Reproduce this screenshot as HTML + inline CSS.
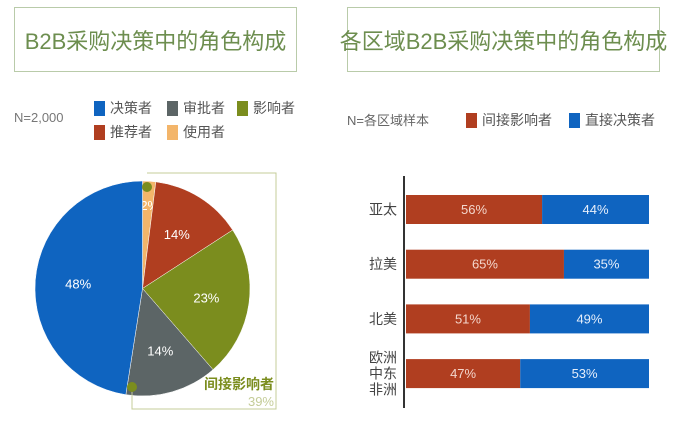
<!DOCTYPE html>
<html><head><meta charset="utf-8"><style>
body{margin:0;width:678px;height:422px;background:#fff;position:relative;overflow:hidden;font-family:"Liberation Sans","Noto Sans CJK SC",sans-serif;}
.abs{position:absolute}
.tbox{position:absolute;border:1.5px solid #b9cba9;color:#6d8e4f;font-size:22px;display:flex;align-items:center;justify-content:center;box-sizing:border-box;white-space:nowrap}
.lg{position:absolute;font-size:14px;color:#555;display:flex;align-items:center;white-space:nowrap}
.sw{width:11px;height:15px;margin-right:5px}
</style></head><body>
<div class="tbox" style="left:14px;top:7px;width:283px;height:65px">B2B采购决策中的角色构成</div>
<div class="tbox" style="left:347px;top:7px;width:313px;height:65px">各区域B2B采购决策中的角色构成</div>
<div class="lg" style="left:14px;top:110px;color:#777;font-size:13px">N=2,000</div>
<div class="lg" style="left:94px;top:98px"><div class="sw" style="background:#0f64c0"></div>决策者</div>
<div class="lg" style="left:167px;top:98px"><div class="sw" style="background:#5c6566"></div>审批者</div>
<div class="lg" style="left:237px;top:98px"><div class="sw" style="background:#7b8d1e"></div>影响者</div>
<div class="lg" style="left:94px;top:122px"><div class="sw" style="background:#b03e20"></div>推荐者</div>
<div class="lg" style="left:167px;top:122px"><div class="sw" style="background:#f3b56a"></div>使用者</div>
<div class="lg" style="left:347px;top:110px;color:#666;font-size:13px">N=各区域样本</div>
<div class="lg" style="left:466px;top:110px"><div class="sw" style="background:#b03e20"></div>间接影响者</div>
<div class="lg" style="left:569px;top:110px"><div class="sw" style="background:#0f64c0"></div>直接决策者</div>
<svg id="pie" class="abs" style="left:0;top:0" width="678" height="422"></svg>
<svg id="bar" class="abs" style="left:0;top:0" width="678" height="422"></svg>
<script>
const pieLabels=["使用者","推荐者","影响者","审批者","决策者"];
const pieValues=[2,14,23,14,48];
const pieColors=["#f3b56a","#b03e20","#7b8d1e","#5c6566","#0f64c0"];
const regions=[["亚太"],["拉美"],["北美"],["欧洲","中东","非洲"]];
const indirect=[56,65,51,47];
const direct=[44,35,49,53];
const NS="http://www.w3.org/2000/svg";
function mk(p,t,a){const e=document.createElementNS(NS,t);for(const k in a)e.setAttribute(k,a[k]);p.appendChild(e);return e;}
const pie=document.getElementById('pie');
const cx=142.5,cy=288.5,r=107.5;
const tot=pieValues.reduce((a,b)=>a+b,0);
let ang=0;
pieValues.forEach((v,i)=>{
 const a0=ang/tot*2*Math.PI, a1=(ang+v)/tot*2*Math.PI; ang+=v;
 const x0=cx+r*Math.sin(a0),y0=cy-r*Math.cos(a0),x1=cx+r*Math.sin(a1),y1=cy-r*Math.cos(a1);
 const p=mk(pie,'path',{d:`M${cx},${cy}L${x0},${y0}A${r},${r} 0 ${a1-a0>Math.PI?1:0} 1 ${x1},${y1}Z`,fill:pieColors[i],stroke:'#fff','stroke-width':0.5});
 
 
 const am=(a0+a1)/2, lr=v<5?r*0.78:r*0.6;
 const t=mk(pie,'text',{x:cx+lr*Math.sin(am)+(v<5?2:0),y:cy-lr*Math.cos(am)+5,fill:'#fff','font-size':13,'text-anchor':'middle'});
 t.textContent=v+'%';
 
 
});
const box=mk(pie,'path',{d:'M147,173H276V409H132V387',fill:'none',stroke:'#c4cc98','stroke-width':1});


[[147,187],[132,387]].forEach((d,i)=>{const c=mk(pie,'circle',{cx:d[0],cy:d[1],r:5,fill:'#7b8d1e'});});
const t1=mk(pie,'text',{x:274,y:389,fill:'#7b8d1e','font-size':14,'font-weight':'bold','text-anchor':'end'});t1.textContent='间接影响者';


const t2=mk(pie,'text',{x:274,y:406,fill:'#c4cc98','font-size':13,'text-anchor':'end'});t2.textContent=(pieValues[0]+pieValues[1]+pieValues[2])+'%';


const bar=document.getElementById('bar');
const x0=406,W=243,bh=29,top0=195,step=54.7;
const xs=v=>v/100*W;
const ax=mk(bar,'line',{x1:404,y1:176,x2:404,y2:408,stroke:'#333','stroke-width':2});


regions.forEach((g,i)=>{
 const y=top0+i*step;
 const a=mk(bar,'rect',{x:x0,y:y,width:xs(indirect[i]),height:bh,fill:'#b03e20'});
 
 
 const b=mk(bar,'rect',{x:x0+xs(indirect[i]),y:y,width:xs(direct[i]),height:bh,fill:'#0f64c0'});
 
 
 const la=mk(bar,'text',{x:x0+xs(indirect[i])/2,y:y+19,fill:'#f3d6cc','font-size':13,'text-anchor':'middle'});la.textContent=indirect[i]+'%';
 
 
 const lb=mk(bar,'text',{x:x0+xs(indirect[i])+xs(direct[i])/2,y:y+19,fill:'#e6eefa','font-size':13,'text-anchor':'middle'});lb.textContent=direct[i]+'%';
 
 
 g.forEach((s,j)=>{const t=mk(bar,'text',{x:383,y:y+bh/2+5+(j-(g.length-1)/2)*16,fill:'#444','font-size':14,'text-anchor':'middle'});t.textContent=s;
 
 });
});
</script>
</body></html>
